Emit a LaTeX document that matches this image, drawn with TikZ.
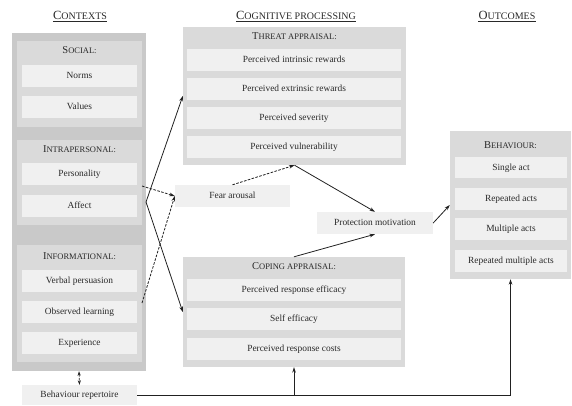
\documentclass[tikz,border=0pt]{standalone}
\usepackage{fontspec}
\setmainfont{Liberation Serif}
\usetikzlibrary{arrows.meta}

\definecolor{ctxgrey}{gray}{0.79}
\definecolor{boxgrey}{gray}{0.855}
\definecolor{itemgrey}{gray}{0.94}
\definecolor{ink}{gray}{0.16}
\definecolor{wire}{gray}{0.13}

% fake small caps: large initial, smaller capitals
\newcommand{\hdrsc}[2]{{\fontsize{12.5}{14}\selectfont #1}{\fontsize{10}{12}\selectfont #2}}
\newcommand{\ttlsc}[2]{{\fontsize{10.5}{12}\selectfont #1}{\fontsize{8.5}{10}\selectfont #2}}

\tikzset{
  sz/.style 2 args={minimum width=#1pt, minimum height=#2pt},
  ctxpanel/.style={fill=ctxgrey, inner sep=0pt},
  panel/.style={fill=boxgrey, inner sep=0pt},
  item/.style={fill=itemgrey, inner sep=0pt, text=ink,
    font=\fontsize{9.4}{11}\selectfont, text height=1.5ex, text depth=.3ex},
  title/.style={inner sep=0pt, text=ink, text height=1.6ex, text depth=.3ex},
  header/.style={inner sep=0pt, text=ink},
  link/.style={draw=wire, line width=0.8pt, -{Stealth[length=5.5pt,width=3.6pt]}},
  dlink/.style={link, dash pattern=on 2.6pt off 1.4pt},
}

\begin{document}
\begin{tikzpicture}[x=1pt, y=-1pt]
\useasboundingbox (0,0) rectangle (572,405);

% column headers
\node[header] (hctx) at (80,15) {\hdrsc{C}{ONTEXTS}};
\node[header] (hcog) at (296,15) {\hdrsc{C}{OGNITIVE PROCESSING}};
\node[header] (hout) at (507,15) {\hdrsc{O}{UTCOMES}};
\foreach \h in {hctx,hcog,hout}
  \draw[ink, line width=0.5pt] ([yshift=-2.2pt]\h.base west) -- ([yshift=-2.2pt]\h.base east);

% contexts column
\node[ctxpanel, sz={134}{338}] (ctx) at (79,202) {};
\node[panel, sz={125}{86}]  (social) at (79.5,84) {};
\node[panel, sz={125}{85}]  (intra)  at (79.5,182.5) {};
\node[panel, sz={125}{117}] (info)   at (79.5,303.5) {};
\node[title] (tsocial) at (79.5,51)  {\ttlsc{S}{OCIAL:}};
\node[title] (tintra)  at (79.5,150) {\ttlsc{I}{NTRAPERSONAL:}};
\node[title] (tinfo)   at (79.5,257) {\ttlsc{I}{NFORMATIONAL:}};
\node[item, sz={115}{22}] (norms)       at (79.5,75.5)  {Norms};
\node[item, sz={115}{22}] (values)      at (79.5,106.5) {Values};
\node[item, sz={115}{22}] (personality) at (79.5,174)   {Personality};
\node[item, sz={115}{22}] (affect)      at (79.5,205.5) {Affect};
\node[item, sz={115}{22}] (verbal)      at (79.5,280.5) {Verbal persuasion};
\node[item, sz={115}{22}] (observed)    at (79.5,312)   {Observed learning};
\node[item, sz={115}{22}] (experience)  at (79.5,343)   {Experience};
\node[item, sz={115}{20}] (repertoire)  at (79.5,395)   {Behaviour repertoire};

% threat appraisal
\node[panel, sz={223}{138}] (threat) at (294.5,96) {};
\node[title] (tthreat) at (294.5,37) {\ttlsc{T}{HREAT APPRAISAL:}};
\node[item, sz={214}{22}] (intrinsic)     at (294,60)  {Perceived intrinsic rewards};
\node[item, sz={214}{22}] (extrinsic)     at (294,89)  {Perceived extrinsic rewards};
\node[item, sz={214}{22}] (severity)      at (294,118) {Perceived severity};
\node[item, sz={214}{22}] (vulnerability) at (294,147) {Perceived vulnerability};

% fear arousal and protection motivation
\node[item, sz={115}{22}] (fear)       at (232.5,196) {Fear arousal};
\node[item, sz={116}{22}] (protection) at (375,223)   {Protection motivation};

% coping appraisal
\node[panel, sz={222}{110}] (coping) at (294,312) {};
\node[title] (tcoping) at (294,267) {\ttlsc{C}{OPING APPRAISAL:}};
\node[item, sz={214}{22}] (efficacy) at (294,289.5) {Perceived response efficacy};
\node[item, sz={214}{22}] (selfeff)  at (294,319)   {Self efficacy};
\node[item, sz={214}{22}] (costs)    at (294,349)   {Perceived response costs};

% behaviour outcomes
\node[panel, sz={121}{148}] (behaviour) at (510.5,205) {};
\node[title] (tbehaviour) at (510.5,146) {\ttlsc{B}{EHAVIOUR:}};
\node[item, sz={112}{21}] (single)   at (511,167.5) {Single act};
\node[item, sz={112}{22}] (repeated) at (511,199)   {Repeated acts};
\node[item, sz={112}{22}] (multiple) at (511,229)   {Multiple acts};
\node[item, sz={112}{22}] (repmult)  at (511,261)   {Repeated multiple acts};

% connectors
\coordinate (apex) at (146,202);
\coordinate (pstart) at (142,186);
\coordinate (ostart) at (142,303);
\draw[link] (apex) -- (threat.west);
\draw[link] (apex) -- (coping.west);
\draw[dlink] (pstart) -- (fear.west);
\draw[dlink] (ostart) -- (fear.west);
\draw[dlink] (fear.north) -- (threat.south);
\draw[link] (threat.south) -- (protection.north);
\draw[link] (coping.north) -- (protection.south);
\draw[link] (protection.east) -- (behaviour.west);
\draw[link] (repertoire.east) -| (behaviour.south);
\draw[link] (coping.south |- repertoire.east) -- (coping.south);
\draw[dlink, {Stealth[length=4.5pt,width=3.2pt]}-{Stealth[length=4.5pt,width=3.2pt]}] (ctx.south) -- (repertoire.north);
\end{tikzpicture}
\end{document}
